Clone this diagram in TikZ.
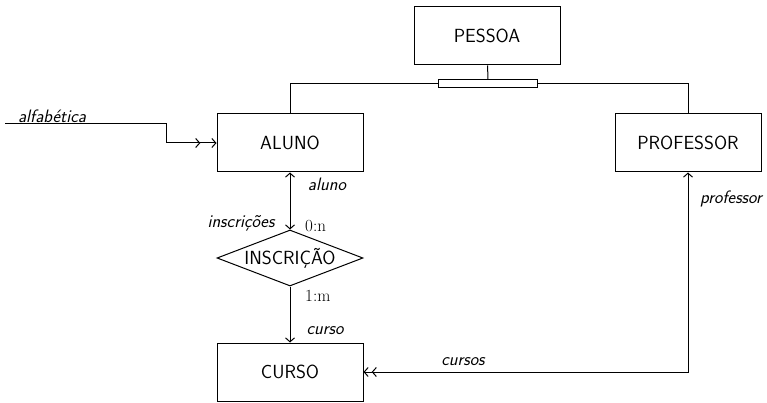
\documentclass[tikz,border=0pt]{standalone}
\usepackage{tikz}
\usetikzlibrary{shapes.geometric, arrows.meta, positioning}

\begin{document}
\begin{tikzpicture}[
    x=1pt, y=-1pt,
    entity/.style={rectangle, draw, line width=1pt, minimum width=146pt, minimum height=58pt, font=\fontsize{19}{21}\sffamily},
    relation/.style={diamond, draw, line width=1pt, aspect=2.6, inner sep=0pt, minimum width=146pt, minimum height=56pt, font=\fontsize{19}{21}\sffamily},
    isbar/.style={rectangle, draw, line width=1pt, minimum width=99pt, minimum height=8pt, inner sep=0pt},
    role/.style={font=\fontsize{18}{20}\sffamily\itshape, inner sep=1pt},
    card/.style={font=\fontsize{17}{19}\rmfamily, inner sep=1pt},
    link/.style={line width=1pt},
    >={Straight Barb[length=4pt,width=9pt]},
    tomany/.style={-{Straight Barb[length=4pt,width=9pt,sep=#1]Straight Barb[length=4pt,width=9pt]}},
    onetomany/.style={{Straight Barb[length=4pt,width=9pt]}-{Straight Barb[length=4pt,width=9pt,sep=#1]Straight Barb[length=4pt,width=9pt]}}
]
\useasboundingbox (0,0) rectangle (767,403);

\node[entity] (pessoa) at (487,36) {PESSOA};
\node[isbar] (bar) at (488,84) {};
\node[entity] (aluno) at (290,143) {ALUNO};
\node[entity] (professor) at (688,143) {PROFESSOR};
\node[relation] (inscricao) at (290,258) {INSCRIÇÃO};
\node[entity] (curso) at (290,372) {CURSO};

\coordinate (start) at (5,124);
\coordinate (bend) at (166,124);

\draw[link] (pessoa) -- (bar);
\draw[link] (bar.west) -| (aluno.north);
\draw[link] (bar.east) -| (professor.north);
\draw[link, <->] (aluno) -- (inscricao);
\draw[link, ->] (inscricao) -- (curso);
\draw[link, onetomany=3pt] (professor.south) |- (curso.east);
\draw[link, tomany=11pt] (start) -- (bend) |- (aluno.west);

% labels
\node[role] (lalf) at (52,116) {alfabética};
\node[role] (laluno) at (327,184) {aluno};
\node[role] (linsc) at (241,223) {inscrições};
\node[card, anchor=west] (lon) at (304,226) {0:n};
\node[card, anchor=west] (lom) at (304,296) {1:m};
\node[role] (lcurso) at (325,331) {curso};
\node[role] (lcursos) at (463,362) {cursos};
\node[role] (lprof) at (731,199) {professor};

\end{tikzpicture}
\end{document}
